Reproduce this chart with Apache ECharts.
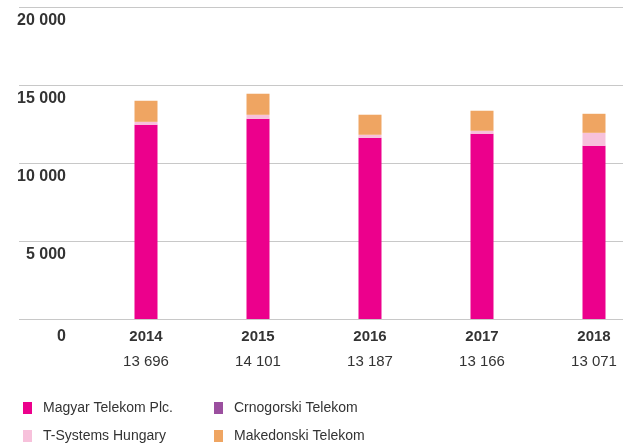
<!DOCTYPE html>
<html>
<head>
<meta charset="utf-8">
<script src="https://cdn.jsdelivr.net/npm/echarts@6/dist/echarts.min.js"></script>
<style>html,body{margin:0;padding:0;background:#fff}#c{width:623px;height:446px}</style>
</head>
<body>
<div id="c"></div>
<script>
const categories = ['2014', '2015', '2016', '2017', '2018'];
const totalLabels = ['13 696', '14 101', '13 187', '13 166', '13 071'];
const magyarTelekom = [12450, 12835, 11615, 11870, 11100];
const tSystemsHungary = [190, 255, 195, 195, 835];
const crnogorskiTelekom = [0, 0, 0, 0, 0];
const makedonskiTelekom = [1350, 1350, 1285, 1285, 1220];
const yTickValues = [0, 5000, 10000, 15000, 20000];

const FONT = '"Liberation Sans", Arial, sans-serif';
const TXT = '#333333';
const GRIDC = '#c8c8c8';

function fmt(v) {
  return String(v).replace(/\B(?=(\d{3})+(?!\d))/g, ' ');
}

const chart = echarts.init(document.getElementById('c'), null, { renderer: 'canvas' });

const seriesDefs = [
  { name: 'Magyar Telekom Plc.', data: magyarTelekom, color: '#EC008C' },
  { name: 'T-Systems Hungary', data: tSystemsHungary, color: '#F7C1DB' },
  { name: 'Crnogorski Telekom', data: crnogorskiTelekom, color: '#9B4F9F' },
  { name: 'Makedonski Telekom', data: makedonskiTelekom, color: '#EFA562' }
];

function legendAt(name, left, top) {
  return {
    orient: 'horizontal',
    left: left,
    top: top,
    padding: 0,
    itemWidth: 9,
    itemHeight: 12,
    icon: 'rect',
    selectedMode: false,
    data: [name],
    textStyle: { fontFamily: FONT, fontSize: 14, color: TXT, padding: [0, 0, 0, 6] }
  };
}

chart.setOption({
  animation: false,
  backgroundColor: '#ffffff',
  grid: [
    { left: 19, right: 0, top: 7, bottom: 127, containLabel: false },
    { left: 146, right: 29, top: 7, bottom: 127, containLabel: false }
  ],
  legend: [
    legendAt('Magyar Telekom Plc.', 23, 401),
    legendAt('Crnogorski Telekom', 214, 401),
    legendAt('T-Systems Hungary', 23, 429),
    legendAt('Makedonski Telekom', 214, 429)
  ],
  xAxis: [
    { gridIndex: 0, type: 'value', show: false, min: 0, max: 1 },
    {
      gridIndex: 1,
      type: 'category',
      boundaryGap: false,
      data: categories,
      axisLine: { show: false },
      axisTick: { show: false },
      axisLabel: {
        margin: 5,
        interval: 0,
        formatter: function (v, i) { return '{y|' + v + '}\n{t|' + totalLabels[i] + '}'; },
        rich: {
          y: { fontFamily: FONT, fontSize: 15, fontWeight: 'bold', color: TXT, lineHeight: 25 },
          t: { fontFamily: FONT, fontSize: 15, color: TXT, lineHeight: 25 }
        }
      }
    }
  ],
  yAxis: [
    {
      gridIndex: 0,
      type: 'value',
      min: 0,
      max: 20000,
      interval: 5000,
      axisLine: { show: false },
      axisTick: { show: false },
      splitLine: { show: true, showMinLine: true, showMaxLine: true, lineStyle: { color: GRIDC, width: 1 } },
      axisLabel: {
        inside: true,
        margin: 47,
        align: 'right',
        verticalAlign: 'top',
        padding: [6, 0, 0, 0],
        fontFamily: FONT,
        fontSize: 16,
        fontWeight: 'bold',
        color: TXT,
        formatter: function (v) {
          if (yTickValues.indexOf(v) < 0) return '';
          return v === 0 ? '{z|0}' : fmt(v);
        },
        rich: {
          z: { fontFamily: FONT, fontSize: 16, fontWeight: 'bold', color: TXT, padding: [4, 0, 0, 0] }
        }
      }
    },
    { gridIndex: 1, type: 'value', min: 0, max: 20000, interval: 5000, show: false, splitLine: { show: false } }
  ],
  series: seriesDefs.map(function (s) {
    return {
      name: s.name,
      type: 'bar',
      xAxisIndex: 1,
      yAxisIndex: 1,
      stack: 'total',
      barWidth: 23,
      data: s.data,
      itemStyle: { color: s.color },
      emphasis: { disabled: true }
    };
  })
});
</script>
</body>
</html>
